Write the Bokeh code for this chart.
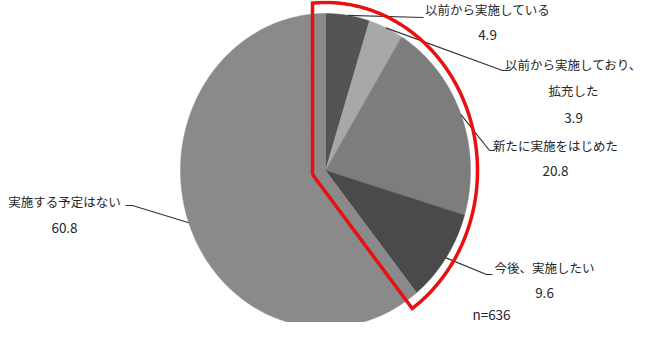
import numpy as np
from bokeh.plotting import figure
from bokeh.models import Range1d
from bokeh.core.properties import value
from bokeh.embed import file_html
from bokeh.resources import INLINE

# ---- data ----
categories = ["以前から実施している", "以前から実施しており、\n拡充した", "新たに実施をはじめた",
              "今後、実施したい", "実施する予定はない"]
values = [4.9, 3.9, 20.8, 9.6, 60.8]
value_labels = ["4.9", "3.9", "20.8", "9.6", "60.8"]
n_label = "n=636"

# ---- styles / layout ----
colors = ["#545457", "#a8a8a8", "#7d7d7d", "#4a4a4d", "#8a8a8a"]
CX, CY, RX, RY = 333, 178, 145, 157
FONT = value("Noto Sans CJK JP")
TXT = "#262626"

# label layout: (text centre x, line ys, value y, elbow pts)
label_layout = [
    dict(x=495, ys=[17], vy=42, elbow=[(431, 25)]),
    dict(x=581, ys=[72, 98], vy=125, elbow=[(510, 78), (517, 78)]),
    dict(x=563, ys=[153], vy=178, elbow=[(497, 158), (502, 158)]),
    dict(x=552, ys=[275], vy=300, elbow=[(494, 282), (500, 282)]),
    dict(x=72, ys=[209], vy=235, elbow=[(140, 213), (133, 213)]),
]

W, H = 645, 322
p = figure(width=W, height=H, output_backend="svg", toolbar_location=None,
           x_range=Range1d(8, 8 + W), y_range=Range1d(8 + H, 8),
           min_border=0, outline_line_color=None)
p.axis.visible = False
p.grid.visible = False
p.background_fill_color = "white"
p.border_fill_color = "white"

def ell(a, rx=RX, ry=RY):
    return CX + rx * np.sin(a), CY - ry * np.cos(a)

total = sum(values)
cum = np.concatenate([[0], np.cumsum(values)]) / total * 2 * np.pi
xs, ys = [], []
for i in range(len(values)):
    a = np.linspace(cum[i], cum[i + 1], 200)
    ex, ey = ell(a)
    xs.append([CX] + list(ex))
    ys.append([CY] + list(ey))
p.patches(xs, ys, fill_color=colors, line_color=colors, line_width=0.5)

# leader lines
lx, ly = [], []
for i, lay in enumerate(label_layout):
    mid = (cum[i] + cum[i + 1]) / 2
    sx, sy = ell(mid)
    lx.append([sx] + [e[0] for e in lay["elbow"]])
    ly.append([sy] + [e[1] for e in lay["elbow"]])
p.multi_line(lx, ly, line_color="#333333", line_width=1.2)

# labels
tx, ty, tt = [], [], []
vx, vy, vt = [], [], []
for i, lay in enumerate(label_layout):
    for line, yy in zip(categories[i].split("\n"), lay["ys"]):
        tx.append(lay["x"]); ty.append(yy); tt.append(line)
    vx.append(lay["x"]); vy.append(lay["vy"]); vt.append(value_labels[i])
p.text(tx, ty, text=tt, text_font=FONT, text_font_size=value("12.5px"),
       text_align="center", text_baseline="middle", text_color=TXT)
p.text(vx, vy, text=vt, text_font=FONT, text_font_size=value("13.5px"),
       text_align="center", text_baseline="middle", text_color=TXT)
p.text([499], [321], text=[n_label], text_font=FONT, text_font_size=value("13.5px"),
       text_align="center", text_baseline="middle", text_color=TXT)

# red highlight outline around the first four slices
hl_end = cum[4]
BRX, BRY = 152, 168
corner = np.array([320.0, 182.0])
d = np.array([RX * np.sin(hl_end), -RY * np.cos(hl_end)])
A = (d[0] / BRX) ** 2 + (d[1] / BRY) ** 2
B = 2 * ((corner[0] - CX) * d[0] / BRX ** 2 + (corner[1] - CY) * d[1] / BRY ** 2)
C = ((corner[0] - CX) / BRX) ** 2 + ((corner[1] - CY) / BRY) ** 2 - 1
t = (-B + np.sqrt(B * B - 4 * A * C)) / (2 * A)
bot = corner + t * d
phi_bot = np.arctan2((bot[0] - CX) / BRX, -(bot[1] - CY) / BRY)
top_x = corner[0]
top_y = CY - BRY * np.sqrt(1 - ((top_x - CX) / BRX) ** 2)
phi_top = np.arctan2((top_x - CX) / BRX, -(top_y - CY) / BRY)
arc = np.linspace(phi_bot, phi_top, 300)
ax, ay = ell(arc, BRX, BRY)
rx_ = [corner[0], bot[0]] + list(ax) + [top_x, corner[0]]
ry_ = [corner[1], bot[1]] + list(ay) + [top_y, corner[1]]
p.line(rx_, ry_, line_color="#e81010", line_width=3.5, line_join="miter")

open("out.html", "w").write(file_html(p, INLINE))
